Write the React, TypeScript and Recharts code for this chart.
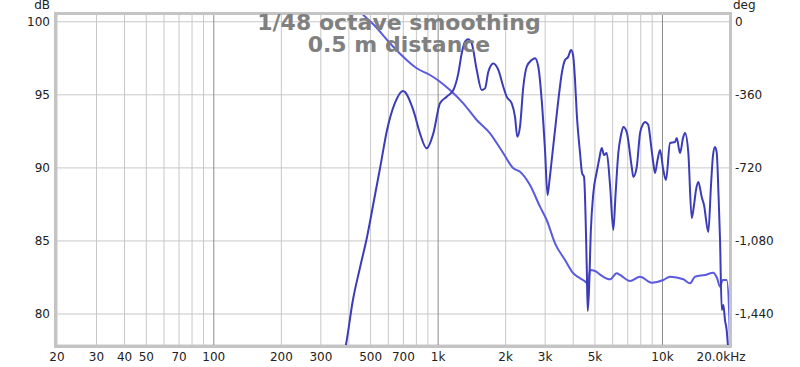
import { LineChart, Line, XAxis, YAxis, ReferenceLine, CartesianGrid } from 'recharts';

// magnitude response, dB
const magFreq = [
  370, 388, 417, 448, 482, 518, 551, 592, 642, 697, 775, 830, 889, 952, 1019, 1092, 1169, 1230, 1274,
  1317, 1359, 1411, 1486, 1564, 1618, 1674, 1762, 1855, 1952, 2021, 2128, 2201, 2254, 2317, 2397,
  2482, 2613, 2703, 2796, 2895, 2995, 3073, 3137, 3209, 3319, 3434, 3566, 3678, 3793, 3912, 3994,
  4076, 4148, 4291, 4380, 4471, 4597, 4643, 4706, 4789, 4919, 5093, 5215, 5361, 5490, 5643, 5838,
  6038, 6176, 6356, 6536, 6691, 6929, 7294, 7414, 7678, 7943, 8190, 8359, 8507, 8649, 8892, 9105,
  9264, 9505, 9751, 10087, 10371, 10806, 11375, 11576, 11975, 12348, 12603, 13040, 13501, 13825,
  14111, 14447, 14961, 15317, 16010, 16458, 16803, 17152, 17455, 17779, 18056, 18375, 18678, 18997,
  19328, 19656, 20000,
];
const magDb = [
  76.5, 77.88, 80.96, 83.15, 85.27, 87.8, 89.99, 92.59, 94.44, 95.26, 93.95, 92.36, 91.34, 92.36, 94.42,
  94.87, 95.33, 96.47, 97.84, 98.63, 98.8, 98.52, 96.7, 95.33, 95.44, 96.58, 97.15, 96.7, 95.55, 94.87,
  94.42, 93.5, 92.13, 92.82, 95.55, 96.92, 97.38, 97.5, 96.92, 94.64, 91.22, 88.14, 89.17, 90.54,
  92.59, 94.64, 96.56, 97.38, 97.58, 98.06, 97.72, 96.0, 93.75, 91.02, 89.65, 89.38, 83.22, 80.21,
  81.65, 85.54, 88.28, 89.72, 90.54, 91.36, 90.88, 91.02, 88.83, 85.75, 88.14, 91.02, 92.25, 92.8,
  92.45, 90.06, 89.38, 90.06, 92.38, 93.0, 93.14, 93.07, 92.93, 91.56, 90.33, 89.65, 90.54, 91.22,
  89.85, 89.17, 91.7, 91.77, 92.04, 91.02, 92.04, 92.38, 91.02, 86.57, 87.46, 88.49, 89.03, 88.01,
  87.46, 85.61, 88.83, 90.88, 91.43, 91.02, 88.14, 85.06, 80.27, 80.61, 79.59, 78.9, 77.5, 76.2,
];

// phase, degrees
const phaseFreq = [
  388, 417, 456, 523, 610, 724, 803, 920, 1019, 1129, 1295, 1486, 1703, 1952, 2163, 2317, 2567, 2845,
  3047, 3319, 3678, 4006, 4291, 4597, 4656, 4754, 5004, 5378, 5838, 6252, 6467, 7167, 7943, 8954,
  10087, 10806, 12388, 13266, 13965, 15477, 16854, 17507, 18056, 18562, 19328, 19858, 20000,
];
const phaseDeg = [
  121.6, 87.2, 41.4, -21.2, -106.4, -188.6, -229.5, -262.5, -295.5, -336.4, -401.9, -484.1, -549.6,
  -648.1, -722, -738.8, -804.3, -911.1, -976.6, -1091.4, -1173.6, -1239.1, -1263.8, -1288.4, -1301.7,
  -1222.9, -1227.8, -1252.4, -1268.7, -1239.1, -1247.5, -1277, -1255.9, -1285.4, -1272.1, -1255.9,
  -1268.7, -1288.4, -1255.9, -1247.5, -1236.2, -1262.3, -1305.1, -1272.1, -1272.1, -1452.9, -1592,
];

const xTicks = [20, 30, 40, 50, 70, 100, 200, 300, 500, 700, 1000, 2000, 3000, 4000, 5000, 7000, 10000, 20000];
const minorGrid = [
  20, 30, 40, 50, 60, 70, 80, 90, 200, 300, 400, 500, 600, 700, 800, 900,
  2000, 3000, 4000, 5000, 6000, 7000, 8000, 9000,
];
const majorGrid = [100, 1000, 10000];
const dbTicks = [80, 85, 90, 95, 100];
const degTicks = [0, -360, -720, -1080, -1440];

const magData = magFreq.map((f, i) => ({ f, v: magDb[i] }));
const phaseData = phaseFreq.map((f, i) => ({ f, v: phaseDeg[i] }));

const font = 'DejaVu Sans';

function freqLabel(f: number) {
  if (f === 20000) return '20.0kHz';
  if (f >= 1000) return f / 1000 + 'k';
  return String(f);
}

function XTick(props: any) {
  const { x, y, payload } = props;
  const last = payload.value === 20000;
  return (
    <text x={last ? x - 9 : x} y={y} dy="0.71em" textAnchor="middle" fontFamily={font} fontSize={12} fill="#222">
      {freqLabel(payload.value)}
    </text>
  );
}

export default function App() {
  return (
    <div style={{ position: 'absolute', left: 0, top: 0, width: 800, height: 367, background: '#fff' }}>
      <LineChart width={800} height={367} margin={{ top: 14, right: 0, bottom: 0, left: 0 }}>
        <CartesianGrid yAxisId="db" vertical={false} stroke="#c8c8c8" strokeWidth={1} />
        <XAxis
          dataKey="f"
          type="number"
          scale="log"
          domain={[20, 20000]}
          allowDataOverflow
          ticks={xTicks}
          tick={<XTick />}
          tickLine={false}
          tickSize={0}
          tickMargin={7}
          axisLine={false}
          height={22}
        />
        <YAxis
          yAxisId="db"
          orientation="left"
          type="number"
          domain={[77.88, 100.53]}
          allowDataOverflow
          ticks={dbTicks}
          width={57}
          tickLine={false}
          tickSize={0}
          tickMargin={7}
          axisLine={false}
          tick={{ fontFamily: font, fontSize: 12, fill: '#222' }}
        />
        <YAxis
          yAxisId="deg"
          orientation="right"
          type="number"
          domain={[-1592.3, 37.9]}
          allowDataOverflow
          ticks={degTicks}
          width={70}
          tickLine={false}
          tickSize={0}
          tickMargin={5}
          axisLine={false}
          tickFormatter={(v: number) => v.toLocaleString('en-US')}
          tick={{ fontFamily: font, fontSize: 12, fill: '#222', textAnchor: 'start' }}
        />
        {minorGrid.map((f) => (
          <ReferenceLine key={'m' + f} x={f} yAxisId="db" stroke="#c8c8c8" strokeWidth={1} />
        ))}
        {majorGrid.map((f) => (
          <ReferenceLine key={'M' + f} x={f} yAxisId="db" stroke="#8c8c8c" strokeWidth={1} />
        ))}
        <Line
          yAxisId="deg"
          data={phaseData}
          dataKey="v"
          type="monotone"
          stroke="#5a5ae0"
          strokeWidth={2}
          dot={false}
          isAnimationActive={false}
        />
        <Line
          yAxisId="db"
          data={magData}
          dataKey="v"
          type="monotone"
          stroke="#3c3cb8"
          strokeWidth={2}
          dot={false}
          isAnimationActive={false}
        />
      </LineChart>
      <div
        style={{
          position: 'absolute',
          left: 54,
          top: 12,
          width: 678,
          height: 336,
          border: '3px solid #c4c4c4',
          boxSizing: 'border-box',
          pointerEvents: 'none',
        }}
      />
      <svg width={800} height={367} style={{ position: 'absolute', left: 0, top: 0, pointerEvents: 'none' }}>
        <text x={50} y={9} textAnchor="end" fontFamily={font} fontSize={12} fill="#222">dB</text>
        <text x={733} y={9} textAnchor="start" fontFamily={font} fontSize={12} fill="#222">deg</text>
        <text x={399} y={30} textAnchor="middle" fontFamily={font} fontWeight="bold" fontSize={22} fill="#808080">
          1/48 octave smoothing
        </text>
        <text x={399} y={52} textAnchor="middle" fontFamily={font} fontWeight="bold" fontSize={22} fill="#808080">
          0.5 m distance
        </text>
      </svg>
    </div>
  );
}
